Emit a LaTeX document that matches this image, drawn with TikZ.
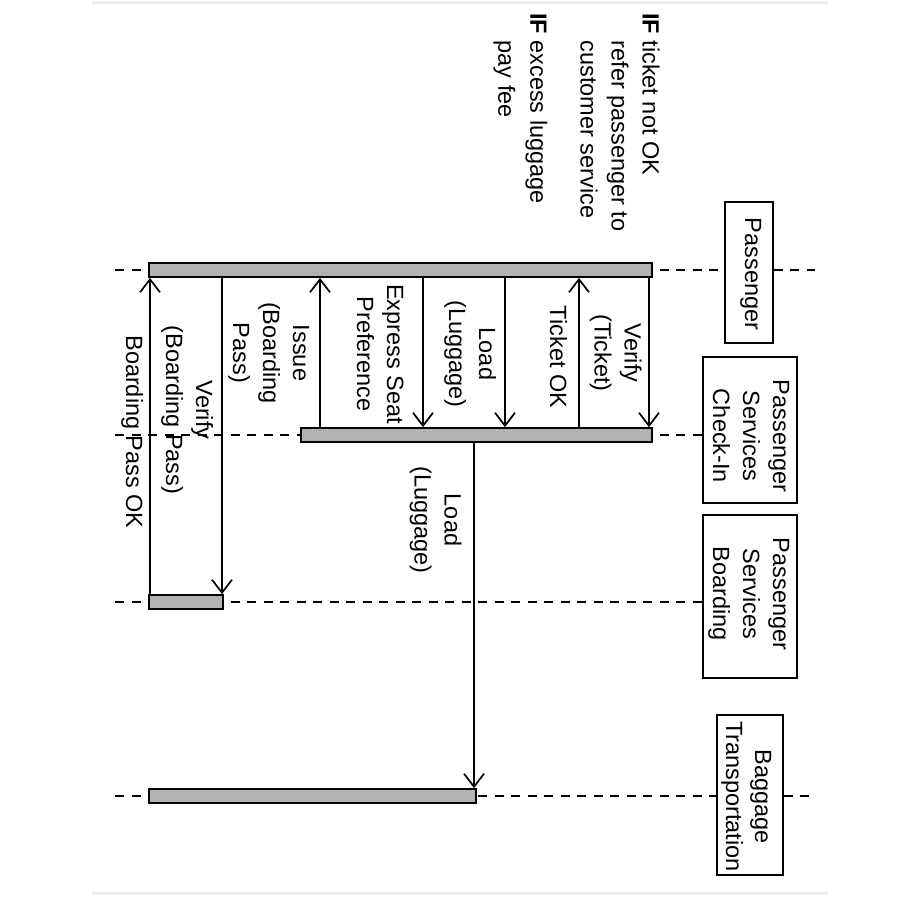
\documentclass[tikz,border=0pt]{standalone}
\usepackage{fontspec}
\setmainfont{Liberation Sans}
\usepackage{graphicx}
\usetikzlibrary{arrows.meta}

% text turned a quarter turn clockwise, centred lines
\newcommand\vtext[2][30]{\rotatebox[origin=c]{-90}{\fontsize{23.5}{#1}\selectfont\begin{tabular}{@{}c@{}}#2\end{tabular}}}
% text turned a quarter turn clockwise, left-aligned lines
\newcommand\vtextl[2][32]{\rotatebox[origin=c]{-90}{\fontsize{23.5}{#1}\selectfont\begin{tabular}{@{}l@{}}#2\end{tabular}}}
\newcommand\hang{\hphantom{\textbf{IF}~}}

\tikzset{
  life/.style={line width=2.4pt, dash pattern=on 9pt off 7.5pt},
  actbar/.style={draw, line width=1.8pt, fill=black!30, inner sep=0pt, minimum height=14pt},
  headbox/.style={draw, line width=1.8pt, fill=white, inner sep=0pt},
  lbl/.style={inner sep=0pt},
  msg/.style={line width=1.7pt, -{Straight Barb[length=13pt,width=20pt]}},
  frame/.style={line width=3pt, black!7},
}

\begin{document}
\begin{tikzpicture}[x=1pt, y=-1pt]
\useasboundingbox (0,0) rectangle (900,900);

% faint page edges
\draw[frame] (92,2) -- (828,2);
\draw[frame] (92,893) -- (828,893);

% lifeline levels and message positions
\coordinate (lP) at (115,270);
\coordinate (lC) at (115,435);
\coordinate (lB) at (115,602);
\coordinate (lG) at (115,796);
\coordinate (rP) at (815,270);
\coordinate (rG) at (815,796);
\coordinate (xVT) at (649,0);
\coordinate (xTO) at (579,0);
\coordinate (xLL) at (505,0);
\coordinate (xES) at (423,0);
\coordinate (xIB) at (320,0);
\coordinate (xVB) at (222,0);
\coordinate (xBO) at (150,0);
\coordinate (xLB) at (474,0);

% object heads
\node[headbox, minimum width=48pt, minimum height=141pt] (pax) at (749,272.5) {};
\node[headbox, minimum width=94pt, minimum height=146pt] (chk) at (750,430) {};
\node[headbox, minimum width=94pt, minimum height=163pt] (brd) at (750,596.5) {};
\node[headbox, minimum width=66pt, minimum height=160pt] (bag) at (750,795) {};
\node[lbl] (paxT) at (751,274) {\vtext{Passenger}};
\node[lbl] (chkT) at (749,436) {\vtext{Passenger\\Services\\Check-In}};
\node[lbl] (brdT) at (749,594) {\vtext{Passenger\\Services\\Boarding}};
\node[lbl] (bagT) at (746.5,796.5) {\vtext[29]{Baggage\\Transportation}};

% lifelines
\draw[life] (lP) -- (lP -| pax.west);
\draw[life] (rP -| pax.east) -- (rP);
\draw[life] (lC) -- (lC -| chk.west);
\draw[life] (lB) -- (lB -| brd.west);
\draw[life] (lG) -- (lG -| bag.west);
\draw[life] (rG -| bag.east) -- (rG);

% activation bars
\node[actbar, minimum width=503pt] (barP) at (400.5,270) {};
\node[actbar, minimum width=351pt] (barC) at (476.5,435) {};
\node[actbar, minimum width=74pt] (barB) at (186,602) {};
\node[actbar, minimum width=327pt] (barG) at (312.5,796) {};

% messages
\draw[msg] (barP.south -| xVT) -- (barC.north -| xVT);
\draw[msg] (barC.north -| xTO) -- (barP.south -| xTO);
\draw[msg] (barP.south -| xLL) -- (barC.north -| xLL);
\draw[msg] (barP.south -| xES) -- (barC.north -| xES);
\draw[msg] (barC.north -| xIB) -- (barP.south -| xIB);
\draw[msg] (barP.south -| xVB) -- (barB.north -| xVB);
\draw[msg] (barB.north -| xBO) -- (barP.south -| xBO);
\draw[msg] (barC.south -| xLB) -- (barG.north -| xLB);

% message labels
\node[lbl] (mVT) at (615.5,353) {\vtext{Verify\\(Ticket)}};
\node[lbl] (mTO) at (556,357) {\vtext{Ticket OK}};
\node[lbl] (mLL) at (470,354) {\vtext{Load\\(Luggage)}};
\node[lbl] (mES) at (378,354) {\vtext{Express Seat\\Preference}};
\node[lbl] (mIB) at (269,353) {\vtext{Issue\\(Boarding\\Pass)}};
\node[lbl] (mVB) at (187,410) {\vtext{Verify\\(Boarding Pass)}};
\node[lbl] (mBO) at (132,432) {\vtext{Boarding Pass OK}};
\node[lbl] (mLB) at (435.5,520) {\vtext{Load\\(Luggage)}};

% conditions
\node[lbl, anchor=north east] (if1) at (664.5,13) {\vtextl[31]{\textbf{IF} ticket not OK\\\hang refer passenger to\\\hang customer service}};
\node[lbl, anchor=north east] (if2) at (553,13) {\vtextl[32]{\textbf{IF} excess luggage\\\hang pay fee}};
\end{tikzpicture}
\end{document}
